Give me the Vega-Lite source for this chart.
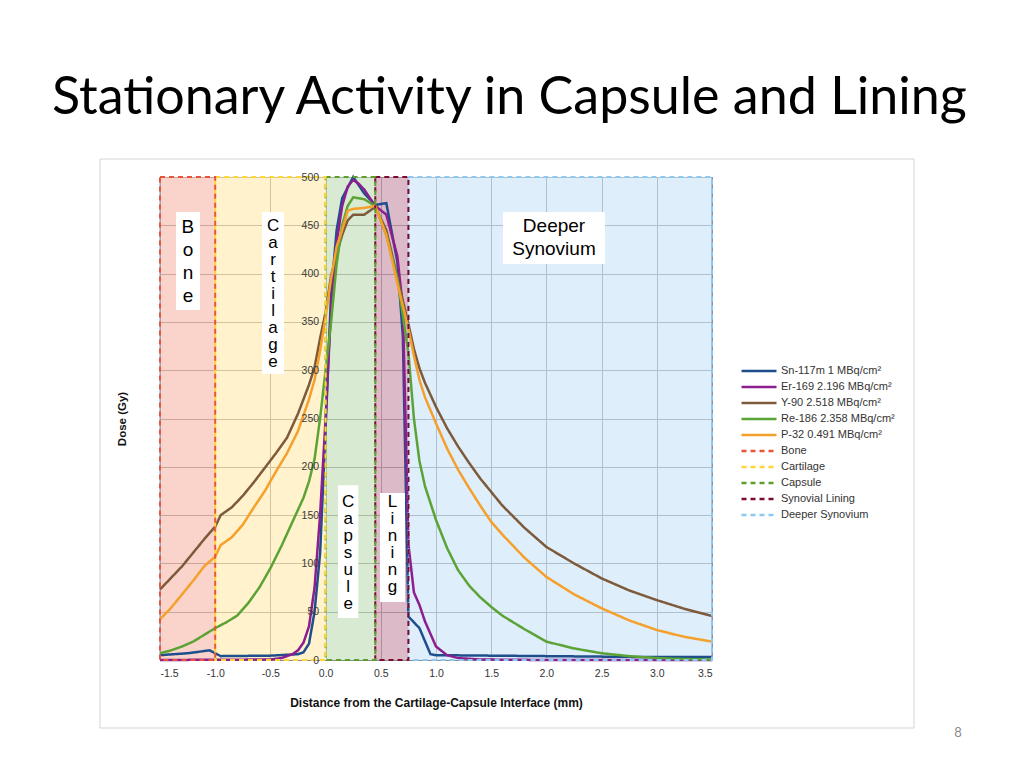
{
  "$schema": "https://vega.github.io/schema/vega-lite/v6.json",
  "width": 552,
  "height": 483,
  "autosize": {"type": "none"},
  "padding": {"left": 160, "top": 177, "right": 312, "bottom": 108},
  "background": "white",
  "config": {"view": {"stroke": null}, "font": "Liberation Sans"},
  "title": {
    "text": "Stationary Activity in Capsule and Lining",
    "anchor": "start", "frame": "group", "dx": -108, "offset": -7,
    "baseline": "alphabetic", "font": "Lato", "fontSize": 52, "fontWeight": "normal", "color": "#000000"
  },
  "resolve": {"axis": {"y": "independent"}},
  "datasets": {
    "regions": [
      {"series": "Deeper Synovium", "x0": 0.75, "x1": 3.5},
      {"series": "Synovial Lining", "x0": 0.45, "x1": 0.75},
      {"series": "Capsule", "x0": 0.0, "x1": 0.45},
      {"series": "Cartilage", "x0": -1.0, "x1": 0.0},
      {"series": "Bone", "x0": -1.5, "x1": -1.0}
    ],
    "labels": [
      {"label": "B\no\nn\ne", "x": -1.247, "y": 448.6, "bx1": -1.355, "bx2": -1.138, "by1": 362.3, "by2": 463.8, "group": "wide"},
      {"label": "C\na\nr\nt\ni\nl\na\ng\ne", "x": -0.476, "y": 449.6, "bx1": -0.576, "bx2": -0.377, "by1": 296, "by2": 463.8, "group": "tight"},
      {"label": "C\na\np\ns\nu\nl\ne", "x": 0.204, "y": 163.9, "bx1": 0.112, "bx2": 0.296, "by1": 43.5, "by2": 181, "group": "tight"},
      {"label": "L\ni\nn\ni\nn\ng", "x": 0.606, "y": 163.9, "bx1": 0.493, "bx2": 0.719, "by1": 60, "by2": 173, "group": "tight"},
      {"label": "Deeper\nSynovium", "x": 2.069, "y": 449.3, "bx1": 1.607, "bx2": 2.531, "by1": 410, "by2": 463.8, "group": "wide"}
    ],
    "edges": [{"e": -1.5}, {"e": 3.5}],
    "frame": [{"fx0": -2.0435, "fx1": 5.3297, "fy0": -70.4, "fy1": 518.6}],
    "page": [{"p": "8", "px": 5.728, "py": -75.6}],
    "curves": [
      {"series": "Sn-117m 1 MBq/cm²", "x": -1.5, "dose": 5},
      {"series": "Sn-117m 1 MBq/cm²", "x": -1.25, "dose": 7},
      {"series": "Sn-117m 1 MBq/cm²", "x": -1.05, "dose": 10},
      {"series": "Sn-117m 1 MBq/cm²", "x": -0.95, "dose": 4},
      {"series": "Sn-117m 1 MBq/cm²", "x": -0.5, "dose": 4.5},
      {"series": "Sn-117m 1 MBq/cm²", "x": -0.25, "dose": 6},
      {"series": "Sn-117m 1 MBq/cm²", "x": -0.2, "dose": 8},
      {"series": "Sn-117m 1 MBq/cm²", "x": -0.15, "dose": 17},
      {"series": "Sn-117m 1 MBq/cm²", "x": -0.1, "dose": 50},
      {"series": "Sn-117m 1 MBq/cm²", "x": -0.05, "dose": 110},
      {"series": "Sn-117m 1 MBq/cm²", "x": 0.0, "dose": 240},
      {"series": "Sn-117m 1 MBq/cm²", "x": 0.05, "dose": 380},
      {"series": "Sn-117m 1 MBq/cm²", "x": 0.1, "dose": 445},
      {"series": "Sn-117m 1 MBq/cm²", "x": 0.15, "dose": 478},
      {"series": "Sn-117m 1 MBq/cm²", "x": 0.25, "dose": 500},
      {"series": "Sn-117m 1 MBq/cm²", "x": 0.35, "dose": 483},
      {"series": "Sn-117m 1 MBq/cm²", "x": 0.45, "dose": 471},
      {"series": "Sn-117m 1 MBq/cm²", "x": 0.55, "dose": 473},
      {"series": "Sn-117m 1 MBq/cm²", "x": 0.65, "dose": 412},
      {"series": "Sn-117m 1 MBq/cm²", "x": 0.7, "dose": 335},
      {"series": "Sn-117m 1 MBq/cm²", "x": 0.75, "dose": 45},
      {"series": "Sn-117m 1 MBq/cm²", "x": 0.85, "dose": 33},
      {"series": "Sn-117m 1 MBq/cm²", "x": 0.95, "dose": 6},
      {"series": "Sn-117m 1 MBq/cm²", "x": 1.0, "dose": 5},
      {"series": "Sn-117m 1 MBq/cm²", "x": 1.5, "dose": 4.5},
      {"series": "Sn-117m 1 MBq/cm²", "x": 2.0, "dose": 4},
      {"series": "Sn-117m 1 MBq/cm²", "x": 2.5, "dose": 3.5},
      {"series": "Sn-117m 1 MBq/cm²", "x": 3.0, "dose": 3},
      {"series": "Sn-117m 1 MBq/cm²", "x": 3.5, "dose": 3},

      {"series": "Er-169 2.196 MBq/cm²", "x": -1.5, "dose": 0},
      {"series": "Er-169 2.196 MBq/cm²", "x": -0.5, "dose": 0.5},
      {"series": "Er-169 2.196 MBq/cm²", "x": -0.4, "dose": 2},
      {"series": "Er-169 2.196 MBq/cm²", "x": -0.3, "dose": 6},
      {"series": "Er-169 2.196 MBq/cm²", "x": -0.25, "dose": 10},
      {"series": "Er-169 2.196 MBq/cm²", "x": -0.2, "dose": 18},
      {"series": "Er-169 2.196 MBq/cm²", "x": -0.15, "dose": 35},
      {"series": "Er-169 2.196 MBq/cm²", "x": -0.1, "dose": 75},
      {"series": "Er-169 2.196 MBq/cm²", "x": -0.05, "dose": 150},
      {"series": "Er-169 2.196 MBq/cm²", "x": 0.0, "dose": 250},
      {"series": "Er-169 2.196 MBq/cm²", "x": 0.05, "dose": 365},
      {"series": "Er-169 2.196 MBq/cm²", "x": 0.1, "dose": 432},
      {"series": "Er-169 2.196 MBq/cm²", "x": 0.15, "dose": 470},
      {"series": "Er-169 2.196 MBq/cm²", "x": 0.2, "dose": 490},
      {"series": "Er-169 2.196 MBq/cm²", "x": 0.25, "dose": 497},
      {"series": "Er-169 2.196 MBq/cm²", "x": 0.3, "dose": 493},
      {"series": "Er-169 2.196 MBq/cm²", "x": 0.35, "dose": 487},
      {"series": "Er-169 2.196 MBq/cm²", "x": 0.45, "dose": 470},
      {"series": "Er-169 2.196 MBq/cm²", "x": 0.55, "dose": 461},
      {"series": "Er-169 2.196 MBq/cm²", "x": 0.65, "dose": 418},
      {"series": "Er-169 2.196 MBq/cm²", "x": 0.7, "dose": 365},
      {"series": "Er-169 2.196 MBq/cm²", "x": 0.75, "dose": 120},
      {"series": "Er-169 2.196 MBq/cm²", "x": 0.8, "dose": 70},
      {"series": "Er-169 2.196 MBq/cm²", "x": 0.85, "dose": 57},
      {"series": "Er-169 2.196 MBq/cm²", "x": 0.9, "dose": 40},
      {"series": "Er-169 2.196 MBq/cm²", "x": 0.95, "dose": 27},
      {"series": "Er-169 2.196 MBq/cm²", "x": 1.0, "dose": 14},
      {"series": "Er-169 2.196 MBq/cm²", "x": 1.1, "dose": 5},
      {"series": "Er-169 2.196 MBq/cm²", "x": 1.2, "dose": 2},
      {"series": "Er-169 2.196 MBq/cm²", "x": 1.4, "dose": 0.5},
      {"series": "Er-169 2.196 MBq/cm²", "x": 2.0, "dose": 0},
      {"series": "Er-169 2.196 MBq/cm²", "x": 3.5, "dose": 0},

      {"series": "Y-90 2.518 MBq/cm²", "x": -1.5, "dose": 73},
      {"series": "Y-90 2.518 MBq/cm²", "x": -1.4, "dose": 85},
      {"series": "Y-90 2.518 MBq/cm²", "x": -1.3, "dose": 97},
      {"series": "Y-90 2.518 MBq/cm²", "x": -1.2, "dose": 111},
      {"series": "Y-90 2.518 MBq/cm²", "x": -1.1, "dose": 125},
      {"series": "Y-90 2.518 MBq/cm²", "x": -1.0, "dose": 138},
      {"series": "Y-90 2.518 MBq/cm²", "x": -0.95, "dose": 150},
      {"series": "Y-90 2.518 MBq/cm²", "x": -0.85, "dose": 158},
      {"series": "Y-90 2.518 MBq/cm²", "x": -0.75, "dose": 170},
      {"series": "Y-90 2.518 MBq/cm²", "x": -0.65, "dose": 184},
      {"series": "Y-90 2.518 MBq/cm²", "x": -0.55, "dose": 199},
      {"series": "Y-90 2.518 MBq/cm²", "x": -0.45, "dose": 214},
      {"series": "Y-90 2.518 MBq/cm²", "x": -0.35, "dose": 230},
      {"series": "Y-90 2.518 MBq/cm²", "x": -0.25, "dose": 255},
      {"series": "Y-90 2.518 MBq/cm²", "x": -0.15, "dose": 285},
      {"series": "Y-90 2.518 MBq/cm²", "x": -0.1, "dose": 303},
      {"series": "Y-90 2.518 MBq/cm²", "x": -0.05, "dose": 333},
      {"series": "Y-90 2.518 MBq/cm²", "x": 0.0, "dose": 360},
      {"series": "Y-90 2.518 MBq/cm²", "x": 0.05, "dose": 398},
      {"series": "Y-90 2.518 MBq/cm²", "x": 0.1, "dose": 420},
      {"series": "Y-90 2.518 MBq/cm²", "x": 0.15, "dose": 440},
      {"series": "Y-90 2.518 MBq/cm²", "x": 0.2, "dose": 455},
      {"series": "Y-90 2.518 MBq/cm²", "x": 0.25, "dose": 461},
      {"series": "Y-90 2.518 MBq/cm²", "x": 0.35, "dose": 461},
      {"series": "Y-90 2.518 MBq/cm²", "x": 0.45, "dose": 469},
      {"series": "Y-90 2.518 MBq/cm²", "x": 0.55, "dose": 445},
      {"series": "Y-90 2.518 MBq/cm²", "x": 0.65, "dose": 396},
      {"series": "Y-90 2.518 MBq/cm²", "x": 0.75, "dose": 348},
      {"series": "Y-90 2.518 MBq/cm²", "x": 0.8, "dose": 322},
      {"series": "Y-90 2.518 MBq/cm²", "x": 0.85, "dose": 302},
      {"series": "Y-90 2.518 MBq/cm²", "x": 0.9, "dose": 287},
      {"series": "Y-90 2.518 MBq/cm²", "x": 1.0, "dose": 262},
      {"series": "Y-90 2.518 MBq/cm²", "x": 1.1, "dose": 240},
      {"series": "Y-90 2.518 MBq/cm²", "x": 1.2, "dose": 221},
      {"series": "Y-90 2.518 MBq/cm²", "x": 1.3, "dose": 204},
      {"series": "Y-90 2.518 MBq/cm²", "x": 1.4, "dose": 188},
      {"series": "Y-90 2.518 MBq/cm²", "x": 1.5, "dose": 174},
      {"series": "Y-90 2.518 MBq/cm²", "x": 1.6, "dose": 160},
      {"series": "Y-90 2.518 MBq/cm²", "x": 1.8, "dose": 137},
      {"series": "Y-90 2.518 MBq/cm²", "x": 2.0, "dose": 117},
      {"series": "Y-90 2.518 MBq/cm²", "x": 2.25, "dose": 100},
      {"series": "Y-90 2.518 MBq/cm²", "x": 2.5, "dose": 84.5},
      {"series": "Y-90 2.518 MBq/cm²", "x": 2.75, "dose": 72},
      {"series": "Y-90 2.518 MBq/cm²", "x": 3.0, "dose": 62},
      {"series": "Y-90 2.518 MBq/cm²", "x": 3.25, "dose": 53},
      {"series": "Y-90 2.518 MBq/cm²", "x": 3.5, "dose": 45.5},

      {"series": "Re-186 2.358 MBq/cm²", "x": -1.5, "dose": 7},
      {"series": "Re-186 2.358 MBq/cm²", "x": -1.4, "dose": 10},
      {"series": "Re-186 2.358 MBq/cm²", "x": -1.3, "dose": 14},
      {"series": "Re-186 2.358 MBq/cm²", "x": -1.2, "dose": 19},
      {"series": "Re-186 2.358 MBq/cm²", "x": -1.1, "dose": 26},
      {"series": "Re-186 2.358 MBq/cm²", "x": -1.0, "dose": 33},
      {"series": "Re-186 2.358 MBq/cm²", "x": -0.9, "dose": 39},
      {"series": "Re-186 2.358 MBq/cm²", "x": -0.8, "dose": 46},
      {"series": "Re-186 2.358 MBq/cm²", "x": -0.7, "dose": 59},
      {"series": "Re-186 2.358 MBq/cm²", "x": -0.6, "dose": 75},
      {"series": "Re-186 2.358 MBq/cm²", "x": -0.5, "dose": 95},
      {"series": "Re-186 2.358 MBq/cm²", "x": -0.4, "dose": 118},
      {"series": "Re-186 2.358 MBq/cm²", "x": -0.3, "dose": 143},
      {"series": "Re-186 2.358 MBq/cm²", "x": -0.2, "dose": 168},
      {"series": "Re-186 2.358 MBq/cm²", "x": -0.15, "dose": 185},
      {"series": "Re-186 2.358 MBq/cm²", "x": -0.1, "dose": 208},
      {"series": "Re-186 2.358 MBq/cm²", "x": -0.05, "dose": 250},
      {"series": "Re-186 2.358 MBq/cm²", "x": 0.0, "dose": 300},
      {"series": "Re-186 2.358 MBq/cm²", "x": 0.05, "dose": 350},
      {"series": "Re-186 2.358 MBq/cm²", "x": 0.1, "dose": 410},
      {"series": "Re-186 2.358 MBq/cm²", "x": 0.15, "dose": 450},
      {"series": "Re-186 2.358 MBq/cm²", "x": 0.2, "dose": 470},
      {"series": "Re-186 2.358 MBq/cm²", "x": 0.25, "dose": 479},
      {"series": "Re-186 2.358 MBq/cm²", "x": 0.35, "dose": 477},
      {"series": "Re-186 2.358 MBq/cm²", "x": 0.45, "dose": 470},
      {"series": "Re-186 2.358 MBq/cm²", "x": 0.55, "dose": 440},
      {"series": "Re-186 2.358 MBq/cm²", "x": 0.65, "dose": 395},
      {"series": "Re-186 2.358 MBq/cm²", "x": 0.75, "dose": 318},
      {"series": "Re-186 2.358 MBq/cm²", "x": 0.8, "dose": 250},
      {"series": "Re-186 2.358 MBq/cm²", "x": 0.85, "dose": 206},
      {"series": "Re-186 2.358 MBq/cm²", "x": 0.9, "dose": 180},
      {"series": "Re-186 2.358 MBq/cm²", "x": 1.0, "dose": 145},
      {"series": "Re-186 2.358 MBq/cm²", "x": 1.1, "dose": 116},
      {"series": "Re-186 2.358 MBq/cm²", "x": 1.2, "dose": 93},
      {"series": "Re-186 2.358 MBq/cm²", "x": 1.3, "dose": 77},
      {"series": "Re-186 2.358 MBq/cm²", "x": 1.4, "dose": 65},
      {"series": "Re-186 2.358 MBq/cm²", "x": 1.5, "dose": 55},
      {"series": "Re-186 2.358 MBq/cm²", "x": 1.6, "dose": 46},
      {"series": "Re-186 2.358 MBq/cm²", "x": 1.8, "dose": 32},
      {"series": "Re-186 2.358 MBq/cm²", "x": 2.0, "dose": 19},
      {"series": "Re-186 2.358 MBq/cm²", "x": 2.25, "dose": 12},
      {"series": "Re-186 2.358 MBq/cm²", "x": 2.5, "dose": 7},
      {"series": "Re-186 2.358 MBq/cm²", "x": 2.75, "dose": 4},
      {"series": "Re-186 2.358 MBq/cm²", "x": 3.0, "dose": 2},
      {"series": "Re-186 2.358 MBq/cm²", "x": 3.25, "dose": 1},
      {"series": "Re-186 2.358 MBq/cm²", "x": 3.5, "dose": 0.5},

      {"series": "P-32 0.491 MBq/cm²", "x": -1.5, "dose": 42},
      {"series": "P-32 0.491 MBq/cm²", "x": -1.4, "dose": 54},
      {"series": "P-32 0.491 MBq/cm²", "x": -1.3, "dose": 68},
      {"series": "P-32 0.491 MBq/cm²", "x": -1.2, "dose": 82},
      {"series": "P-32 0.491 MBq/cm²", "x": -1.1, "dose": 97},
      {"series": "P-32 0.491 MBq/cm²", "x": -1.0, "dose": 107},
      {"series": "P-32 0.491 MBq/cm²", "x": -0.95, "dose": 119},
      {"series": "P-32 0.491 MBq/cm²", "x": -0.85, "dose": 127},
      {"series": "P-32 0.491 MBq/cm²", "x": -0.75, "dose": 140},
      {"series": "P-32 0.491 MBq/cm²", "x": -0.65, "dose": 158},
      {"series": "P-32 0.491 MBq/cm²", "x": -0.55, "dose": 175},
      {"series": "P-32 0.491 MBq/cm²", "x": -0.45, "dose": 195},
      {"series": "P-32 0.491 MBq/cm²", "x": -0.35, "dose": 214},
      {"series": "P-32 0.491 MBq/cm²", "x": -0.25, "dose": 237},
      {"series": "P-32 0.491 MBq/cm²", "x": -0.15, "dose": 270},
      {"series": "P-32 0.491 MBq/cm²", "x": -0.1, "dose": 290},
      {"series": "P-32 0.491 MBq/cm²", "x": -0.05, "dose": 320},
      {"series": "P-32 0.491 MBq/cm²", "x": 0.0, "dose": 355},
      {"series": "P-32 0.491 MBq/cm²", "x": 0.05, "dose": 395},
      {"series": "P-32 0.491 MBq/cm²", "x": 0.1, "dose": 428},
      {"series": "P-32 0.491 MBq/cm²", "x": 0.15, "dose": 445},
      {"series": "P-32 0.491 MBq/cm²", "x": 0.2, "dose": 465},
      {"series": "P-32 0.491 MBq/cm²", "x": 0.25, "dose": 467},
      {"series": "P-32 0.491 MBq/cm²", "x": 0.35, "dose": 468},
      {"series": "P-32 0.491 MBq/cm²", "x": 0.45, "dose": 470},
      {"series": "P-32 0.491 MBq/cm²", "x": 0.55, "dose": 440},
      {"series": "P-32 0.491 MBq/cm²", "x": 0.65, "dose": 390},
      {"series": "P-32 0.491 MBq/cm²", "x": 0.75, "dose": 343},
      {"series": "P-32 0.491 MBq/cm²", "x": 0.8, "dose": 315},
      {"series": "P-32 0.491 MBq/cm²", "x": 0.85, "dose": 290},
      {"series": "P-32 0.491 MBq/cm²", "x": 0.9, "dose": 272},
      {"series": "P-32 0.491 MBq/cm²", "x": 1.0, "dose": 245},
      {"series": "P-32 0.491 MBq/cm²", "x": 1.1, "dose": 219},
      {"series": "P-32 0.491 MBq/cm²", "x": 1.2, "dose": 197},
      {"series": "P-32 0.491 MBq/cm²", "x": 1.3, "dose": 178},
      {"series": "P-32 0.491 MBq/cm²", "x": 1.4, "dose": 160},
      {"series": "P-32 0.491 MBq/cm²", "x": 1.5, "dose": 143},
      {"series": "P-32 0.491 MBq/cm²", "x": 1.6, "dose": 130},
      {"series": "P-32 0.491 MBq/cm²", "x": 1.8, "dose": 106},
      {"series": "P-32 0.491 MBq/cm²", "x": 2.0, "dose": 86},
      {"series": "P-32 0.491 MBq/cm²", "x": 2.25, "dose": 68},
      {"series": "P-32 0.491 MBq/cm²", "x": 2.5, "dose": 53.5},
      {"series": "P-32 0.491 MBq/cm²", "x": 2.75, "dose": 41},
      {"series": "P-32 0.491 MBq/cm²", "x": 3.0, "dose": 31},
      {"series": "P-32 0.491 MBq/cm²", "x": 3.25, "dose": 24},
      {"series": "P-32 0.491 MBq/cm²", "x": 3.5, "dose": 19}
    ]
  },
  "layer": [
    {
      "data": {"name": "frame"},
      "mark": {"type": "rect", "filled": false, "stroke": "#d4d4d4", "strokeWidth": 1},
      "encoding": {
        "x": {"field": "fx0", "type": "quantitative",
          "scale": {"domain": [-1.5, 3.5], "nice": false, "zero": false},
          "axis": {
            "title": "Distance from the Cartilage-Capsule Interface (mm)",
            "values": [-1.5, -1, -0.5, 0, 0.5, 1, 1.5, 2, 2.5, 3, 3.5],
            "labelExpr": "replace(format(datum.value, '.1f'), '\u2212', '-')",
            "grid": true, "gridColor": "#8c8c8c", "gridWidth": 1,
            "domain": false, "ticks": false,
            "labelFont": "Liberation Sans", "labelFontSize": 10.5, "labelColor": "#333333", "labelPadding": 8,
            "titleFont": "Liberation Sans", "titleFontSize": 12, "titleFontWeight": "bold", "titleColor": "#111111", "titlePadding": 19
          }
        },
        "x2": {"field": "fx1"},
        "y": {"field": "fy0", "type": "quantitative",
          "scale": {"domain": [0, 500], "nice": false, "zero": false},
          "axis": {
            "orient": "left", "offset": 0, "title": null, "labels": false,
            "values": [0, 50, 100, 150, 200, 250, 300, 350, 400, 450, 500],
            "grid": true, "gridColor": "#8c8c8c", "gridWidth": 1,
            "domain": false, "ticks": false, "zindex": 0
          }
        },
        "y2": {"field": "fy1"}
      }
    },
    {
      "data": {"name": "regions"},
      "mark": {"type": "rect", "fillOpacity": 0.6, "strokeWidth": 0},
      "encoding": {
        "x": {"field": "x0", "type": "quantitative"},
        "x2": {"field": "x1"},
        "y": {"datum": 0, "type": "quantitative",
          "axis": {
            "orient": "left",
            "title": "Dose (Gy)",
            "values": [0, 50, 100, 150, 200, 250, 300, 350, 400, 450, 500],
            "offset": -165.6, "zindex": 2,
            "grid": false, "domain": false, "ticks": false,
            "labelFont": "Liberation Sans", "labelFontSize": 10.5, "labelColor": "#3a3a3a", "labelPadding": 7,
            "titleFont": "Liberation Sans", "titleFontSize": 11.5, "titleFontWeight": "bold", "titleColor": "#111111",
            "titleX": -198, "titleY": 241.5
          }
        },
        "y2": {"datum": 500},
        "fill": {"field": "series", "type": "nominal",
          "scale": {"domain": ["Bone", "Cartilage", "Capsule", "Synovial Lining", "Deeper Synovium"],
                    "range": ["#f7b7a8", "#ffe9aa", "#c0dcb6", "#c58ca3", "#c8e3f8"]},
          "legend": null}
      }
    },
    {
      "data": {"name": "edges"},
      "mark": {"type": "rule", "stroke": "#8098c0", "strokeWidth": 1},
      "encoding": {
        "x": {"field": "e", "type": "quantitative"},
        "y": {"datum": 0, "type": "quantitative", "axis": null},
        "y2": {"datum": 500}
      }
    },
    {
      "data": {"name": "curves"},
      "mark": {"type": "line", "strokeWidth": 2.5},
      "encoding": {
        "x": {"field": "x", "type": "quantitative"},
        "y": {"field": "dose", "type": "quantitative", "axis": null},
        "stroke": {"field": "series", "type": "nominal",
          "scale": {
            "domain": ["Sn-117m 1 MBq/cm²", "Er-169 2.196 MBq/cm²", "Y-90 2.518 MBq/cm²", "Re-186 2.358 MBq/cm²", "P-32 0.491 MBq/cm²", "Bone", "Cartilage", "Capsule", "Synovial Lining", "Deeper Synovium"],
            "range": ["#1f4e8c", "#8b1f8f", "#7d5a3a", "#5ca335", "#f5a02a", "#e8553a", "#ffd633", "#5e9e2e", "#7a0c33", "#8cc8f0"]
          },
          "legend": {
            "title": null, "orient": "none", "legendX": 580, "legendY": 186, "padding": 0,
            "symbolType": "stroke", "symbolSize": 1225, "symbolStrokeWidth": 2.5, "clipHeight": 16,
            "labelFont": "Liberation Sans", "labelFontSize": 11, "labelColor": "#333333", "labelOffset": 3, "rowPadding": 0
          }
        },
        "strokeDash": {"field": "series", "type": "nominal",
          "scale": {
            "domain": ["Sn-117m 1 MBq/cm²", "Er-169 2.196 MBq/cm²", "Y-90 2.518 MBq/cm²", "Re-186 2.358 MBq/cm²", "P-32 0.491 MBq/cm²", "Bone", "Cartilage", "Capsule", "Synovial Lining", "Deeper Synovium"],
            "range": [[1, 0], [1, 0], [1, 0], [1, 0], [1, 0], [5, 4], [5, 4], [5, 4], [5, 4], [5, 4]]
          },
          "legend": {
            "title": null, "orient": "none", "legendX": 580, "legendY": 186, "padding": 0,
            "symbolType": "stroke", "symbolSize": 1225, "symbolStrokeWidth": 2.5, "clipHeight": 16,
            "labelFont": "Liberation Sans", "labelFontSize": 11, "labelColor": "#333333", "labelOffset": 3, "rowPadding": 0
          }
        }
      }
    },
    {
      "data": {"name": "regions"},
      "mark": {"type": "rect", "filled": false, "strokeWidth": 2, "strokeDash": [5, 4]},
      "encoding": {
        "x": {"field": "x0", "type": "quantitative"},
        "x2": {"field": "x1"},
        "y": {"datum": 0, "type": "quantitative", "axis": null},
        "y2": {"datum": 500},
        "stroke": {"field": "series", "type": "nominal"}
      }
    },
    {
      "data": {"name": "labels"},
      "mark": {"type": "rect", "fill": "white", "strokeWidth": 0},
      "encoding": {
        "x": {"field": "bx1", "type": "quantitative"},
        "x2": {"field": "bx2"},
        "y": {"field": "by1", "type": "quantitative", "axis": null},
        "y2": {"field": "by2"}
      }
    },
    {
      "data": {"name": "labels"},
      "transform": [{"filter": "datum.group == 'wide'"}],
      "mark": {"type": "text", "lineBreak": "\n", "lineHeight": 23, "font": "Liberation Sans", "fontSize": 19, "color": "#000000", "align": "center", "baseline": "middle"},
      "encoding": {
        "x": {"field": "x", "type": "quantitative"},
        "y": {"field": "y", "type": "quantitative", "axis": null},
        "text": {"field": "label"}
      }
    },
    {
      "data": {"name": "labels"},
      "transform": [{"filter": "datum.group == 'tight'"}],
      "mark": {"type": "text", "lineBreak": "\n", "lineHeight": 17, "font": "Liberation Sans", "fontSize": 17, "color": "#000000", "align": "center", "baseline": "middle"},
      "encoding": {
        "x": {"field": "x", "type": "quantitative"},
        "y": {"field": "y", "type": "quantitative", "axis": null},
        "text": {"field": "label"}
      }
    },
    {
      "data": {"name": "page"},
      "mark": {"type": "text", "font": "Lato", "fontSize": 13, "color": "#8a8a8a", "align": "center", "baseline": "middle"},
      "encoding": {
        "x": {"field": "px", "type": "quantitative"},
        "y": {"field": "py", "type": "quantitative", "axis": null},
        "text": {"field": "p"}
      }
    }
  ]
}
